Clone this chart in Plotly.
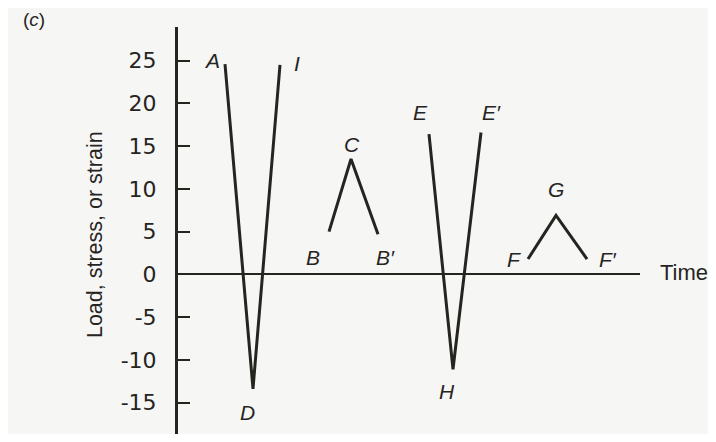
import plotly.graph_objects as go

# --- data (time in arbitrary units, value in load/stress/strain units) ---
adi_time = [4.7, 7.5, 10.2]
adi_value = [24.6, -13.4, 24.5]
bcb_time = [15.1, 17.3, 20.0]
bcb_value = [5.0, 13.5, 4.7]
ehe_time = [25.1, 27.5, 30.3]
ehe_value = [16.4, -11.1, 16.6]
fgf_time = [35.0, 37.8, 40.9]
fgf_value = [1.8, 6.9, 1.8]

point_labels = ["A", "D", "I", "B", "C", "B′", "E", "H", "E′", "F", "G", "F′"]
label_time = [3.4, 6.9, 11.9, 13.5, 17.4, 20.7, 24.2, 26.9, 31.3, 33.6, 37.8, 43.0]
label_value = [25.0, -16.2, 24.7, 2.0, 15.2, 2.0, 18.9, -13.7, 18.9, 1.8, 9.9, 1.8]

y_ticks = [25, 20, 15, 10, 5, 0, -5, -10, -15]

INK = "#26241f"
BG = "#f6f6f5"
FONT = "Liberation Sans, Arial, sans-serif"
TICKFONT = "DejaVu Sans, sans-serif"

fig = go.Figure()
for t, v in [(adi_time, adi_value), (bcb_time, bcb_value),
             (ehe_time, ehe_value), (fgf_time, fgf_value)]:
    fig.add_trace(go.Scatter(x=t, y=v, mode="lines",
                             line=dict(color=INK, width=3),
                             showlegend=False, hoverinfo="skip"))

for lab, t, v in zip(point_labels, label_time, label_value):
    fig.add_annotation(x=t, y=v, text=f"<i>{lab}</i>", showarrow=False,
                       font=dict(family=FONT, size=21, color=INK))

fig.add_annotation(xref="paper", yref="y", x=1.038, y=0.2,
                   text="Time", showarrow=False, xanchor="left",
                   font=dict(family=FONT, size=22, color=INK))
fig.add_annotation(xref="paper", yref="y", x=-0.18, y=4.7,
                   xanchor="center", yanchor="middle",
                   text="Load, stress, or strain", textangle=-90,
                   showarrow=False, font=dict(family=FONT, size=21.5, color=INK))
fig.add_annotation(xref="paper", yref="paper", x=-0.34, y=1.0172,
                   xanchor="left", yanchor="middle", text="(<i>c</i>)", showarrow=False,
                   font=dict(family=FONT, size=19, color=INK))

# page body has an 8px margin, so the figure is 8px smaller and shifted
fig.update_layout(
    width=708, height=426,
    margin=dict(l=170, r=76, t=19, b=0),
    paper_bgcolor=BG, plot_bgcolor=BG,
    xaxis=dict(range=[0, 46.2], visible=False),
    yaxis=dict(range=[-18.67, 28.94], tickvals=y_ticks,
               ticktext=[str(v) for v in y_ticks],
               showgrid=False, showline=True, linewidth=3, linecolor=INK,
               ticks="inside", ticklen=12, tickwidth=2, tickcolor=INK,
               ticklabelstandoff=14,
               zeroline=True, zerolinewidth=2, zerolinecolor=INK,
               tickfont=dict(family=TICKFONT, size=22, color=INK)),
)

fig.write_html("out.html")
